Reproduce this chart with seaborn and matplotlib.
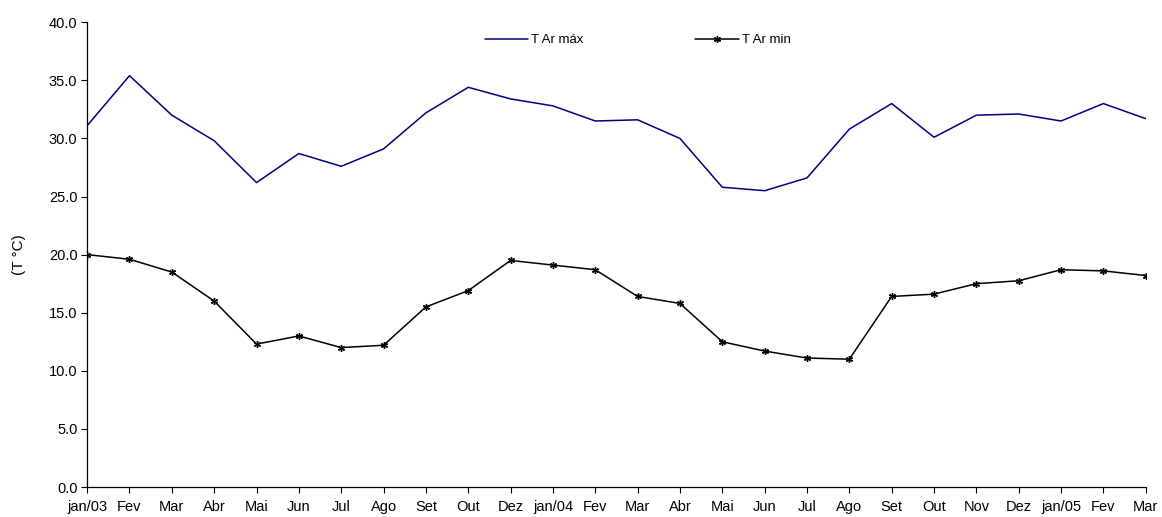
import pandas as pd
import matplotlib.pyplot as plt
import seaborn as sns

sns.set_theme(style="white")
plt.rcParams["font.family"] = ["Liberation Sans", "DejaVu Sans"]
plt.rcParams.update({"text.color": "black", "xtick.color": "black",
                     "ytick.color": "black", "axes.labelcolor": "black"})

months = ["jan/03", "Fev", "Mar", "Abr", "Mai", "Jun", "Jul", "Ago", "Set", "Out",
          "Dez", "jan/04", "Fev", "Mar", "Abr", "Mai", "Jun", "Jul", "Ago", "Set",
          "Out", "Nov", "Dez", "jan/05", "Fev", "Mar"]
t_max = [31.1, 35.4, 32.0, 29.8, 26.2, 28.7, 27.6, 29.1, 32.2, 34.4,
         33.4, 32.8, 31.5, 31.6, 30.0, 25.8, 25.5, 26.6, 30.8, 33.0,
         30.1, 32.0, 32.1, 31.5, 33.0, 31.7]
t_min = [20.0, 19.6, 18.5, 16.0, 12.3, 13.0, 12.0, 12.2, 15.5, 16.9,
         19.5, 19.1, 18.7, 16.4, 15.8, 12.5, 11.7, 11.1, 11.0, 16.4,
         16.6, 17.5, 17.75, 18.7, 18.6, 18.2]

df = pd.DataFrame({"pos": range(len(months)), "mes": months,
                   "T Ar máx": t_max, "T Ar min": t_min})

fig = plt.figure(figsize=(11.62, 5.17), dpi=100)
ax = fig.add_axes([0.075, 0.058, 0.911, 0.899])

sns.lineplot(data=df, x="pos", y="T Ar máx", ax=ax, color="#000080", lw=1.1,
             label="T Ar máx")
sns.lineplot(data=df, x="pos", y="T Ar min", ax=ax, color="black", lw=1.1,
             marker=(6, 2, 0), markersize=5, markeredgewidth=1.0,
             markeredgecolor="black", label="T Ar min")

ax.set_xlim(0, len(months) - 1)
ax.set_ylim(0, 40)
ax.set_yticks([0, 5, 10, 15, 20, 25, 30, 35, 40])
ax.set_yticklabels([f"{v:.1f}" for v in ax.get_yticks()], fontsize=10.5)
ax.set_xticks(df["pos"])
ax.set_xticklabels(months, fontsize=10.5)
ax.set_xlabel("")
ax.set_ylabel("(T °C)", fontsize=11)
ax.yaxis.set_label_coords(-0.058, 0.5)

for side in ["top", "right"]:
    ax.spines[side].set_visible(False)
for side in ["left", "bottom"]:
    ax.spines[side].set_color("black")
    ax.spines[side].set_linewidth(0.9)
ax.tick_params(axis="both", direction="out", length=4, width=0.8, color="black",
               left=True, bottom=True, pad=3)
ax.tick_params(axis="x", pad=5)

ax.legend(loc="upper center", bbox_to_anchor=(0.52, 1.0), ncol=2, frameon=False,
          fontsize=9.5, handlelength=3.3, columnspacing=8.5, handletextpad=0.2)

plt.savefig("out.png", dpi=100)
